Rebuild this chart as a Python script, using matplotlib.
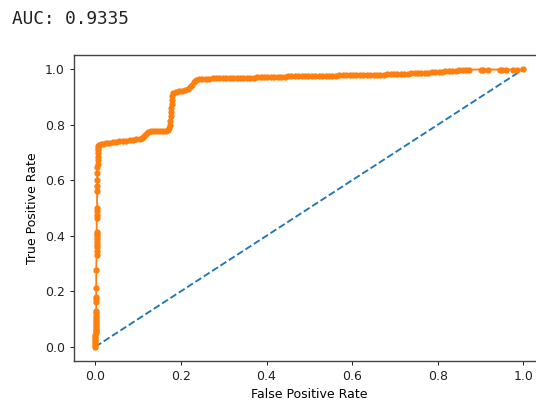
import matplotlib
matplotlib.use("Agg")
import matplotlib.pyplot as plt

auc_text = "AUC: 0.9335"

# ROC curve points
fpr = [0.000, 0.000, 0.000, 0.000, 0.000, 0.000, 0.000, 0.001, 0.001, 0.001,
       0.001, 0.001, 0.001, 0.001, 0.001, 0.001, 0.001, 0.001, 0.002, 0.002,
       0.002, 0.002, 0.002, 0.002, 0.003, 0.003, 0.003, 0.003, 0.003, 0.003,
       0.003, 0.003, 0.003, 0.003, 0.003, 0.004, 0.004, 0.004, 0.004, 0.004,
       0.004, 0.004, 0.005, 0.005, 0.005, 0.005, 0.005, 0.006, 0.006,
       0.008, 0.012, 0.018, 0.025, 0.032, 0.040, 0.048, 0.056, 0.064, 0.072,
       0.080, 0.088, 0.096, 0.104, 0.110, 0.114, 0.118, 0.124, 0.130, 0.137,
       0.144, 0.151, 0.158, 0.164, 0.169, 0.172, 0.174, 0.175, 0.176, 0.177,
       0.177, 0.178, 0.179, 0.180, 0.182, 0.188, 0.195, 0.202, 0.209, 0.216,
       0.221, 0.226, 0.231, 0.236, 0.242, 0.250, 0.258, 0.266, 0.274, 0.282,
       0.290, 0.298, 0.306, 0.314, 0.322, 0.330, 0.338, 0.346, 0.354, 0.362,
       0.370, 0.378, 0.386, 0.394, 0.402, 0.410, 0.418, 0.426, 0.434, 0.442,
       0.450, 0.458, 0.466, 0.474, 0.482, 0.490, 0.498, 0.506, 0.514, 0.522,
       0.530, 0.538, 0.546, 0.554, 0.562, 0.570, 0.578, 0.586, 0.594, 0.602,
       0.610, 0.618, 0.626, 0.634, 0.642, 0.650, 0.658, 0.666, 0.674, 0.682,
       0.690, 0.698, 0.706, 0.714, 0.722, 0.730, 0.738, 0.746, 0.754, 0.762,
       0.770, 0.778, 0.786, 0.794, 0.802, 0.810, 0.818, 0.826, 0.834, 0.842,
       0.850, 0.858, 0.866, 0.872, 0.900, 0.905, 0.918, 0.945, 0.950, 0.960,
       0.975, 0.985, 1.000]
tpr = [0.000, 0.006, 0.013, 0.020, 0.027, 0.034, 0.041, 0.048, 0.055, 0.062,
       0.069, 0.076, 0.083, 0.090, 0.097, 0.104, 0.112, 0.120, 0.127, 0.163,
       0.172, 0.181, 0.212, 0.277, 0.331, 0.345, 0.358, 0.368, 0.378, 0.388,
       0.398, 0.408, 0.415, 0.464, 0.475, 0.490, 0.500, 0.560, 0.580, 0.601,
       0.625, 0.648, 0.660, 0.672, 0.685, 0.698, 0.710, 0.718, 0.724,
       0.728, 0.730, 0.732, 0.734, 0.736, 0.738, 0.739, 0.740, 0.741, 0.742,
       0.744, 0.745, 0.747, 0.749, 0.751, 0.758, 0.768, 0.775, 0.776, 0.776,
       0.777, 0.777, 0.778, 0.779, 0.782, 0.790, 0.800, 0.815, 0.830, 0.845,
       0.860, 0.875, 0.890, 0.904, 0.914, 0.919, 0.921, 0.923, 0.925, 0.928,
       0.936, 0.945, 0.954, 0.961, 0.965, 0.966, 0.966, 0.966, 0.967, 0.967,
       0.967, 0.968, 0.968, 0.968, 0.969, 0.969, 0.969, 0.970, 0.970, 0.970,
       0.970, 0.971, 0.971, 0.971, 0.972, 0.972, 0.972, 0.973, 0.973, 0.973,
       0.974, 0.974, 0.974, 0.974, 0.975, 0.975, 0.975, 0.975, 0.975, 0.976,
       0.976, 0.976, 0.977, 0.977, 0.977, 0.978, 0.978, 0.978, 0.978, 0.979,
       0.979, 0.979, 0.980, 0.980, 0.980, 0.980, 0.981, 0.981, 0.981, 0.982,
       0.982, 0.982, 0.983, 0.983, 0.984, 0.984, 0.985, 0.985, 0.986, 0.987,
       0.987, 0.988, 0.989, 0.990, 0.990, 0.991, 0.992, 0.993, 0.994, 0.995,
       0.996, 0.997, 0.998, 0.999, 0.999, 0.999, 0.999, 0.999, 0.999, 0.999,
       0.999, 0.999, 1.000]

chance_x = [0, 1]
chance_y = [0, 1]

scale = 0.9
plt.rcParams["font.family"] = "DejaVu Sans"
plt.rcParams["font.size"] = 10 * scale

fig = plt.figure(figsize=(5.36, 4.05), dpi=100)
ax = fig.add_axes([74 / 536, 1 - 360.6 / 405, (544.7 - 74) / 536, (360.6 - 55.4) / 405])

ax.plot(chance_x, chance_y, linestyle="--", color="#1f77b4", linewidth=1.5 * scale)
ax.plot(fpr, tpr, marker=".", color="#ff7f0e", linewidth=1.5 * scale, markersize=6 * scale * 1.3)

ax.set_xlabel("False Positive Rate", fontsize=10 * scale)
ax.set_ylabel("True Positive Rate", fontsize=10 * scale)
ax.set_xticks([0.0, 0.2, 0.4, 0.6, 0.8, 1.0])
ax.set_yticks([0.0, 0.2, 0.4, 0.6, 0.8, 1.0])
ax.tick_params(labelsize=10 * scale, length=3.5 * scale, width=0.8 * scale, colors="#222222", labelcolor="#222222")
for s in ax.spines.values():
    s.set_linewidth(1.0)
    s.set_color("#444444")

fig.text(12 / 536, 1 - 24 / 405, auc_text, family="DejaVu Sans Mono", fontsize=12.8,
         va="baseline", ha="left", color="#222222")

fig.savefig("out.png", dpi=100)
